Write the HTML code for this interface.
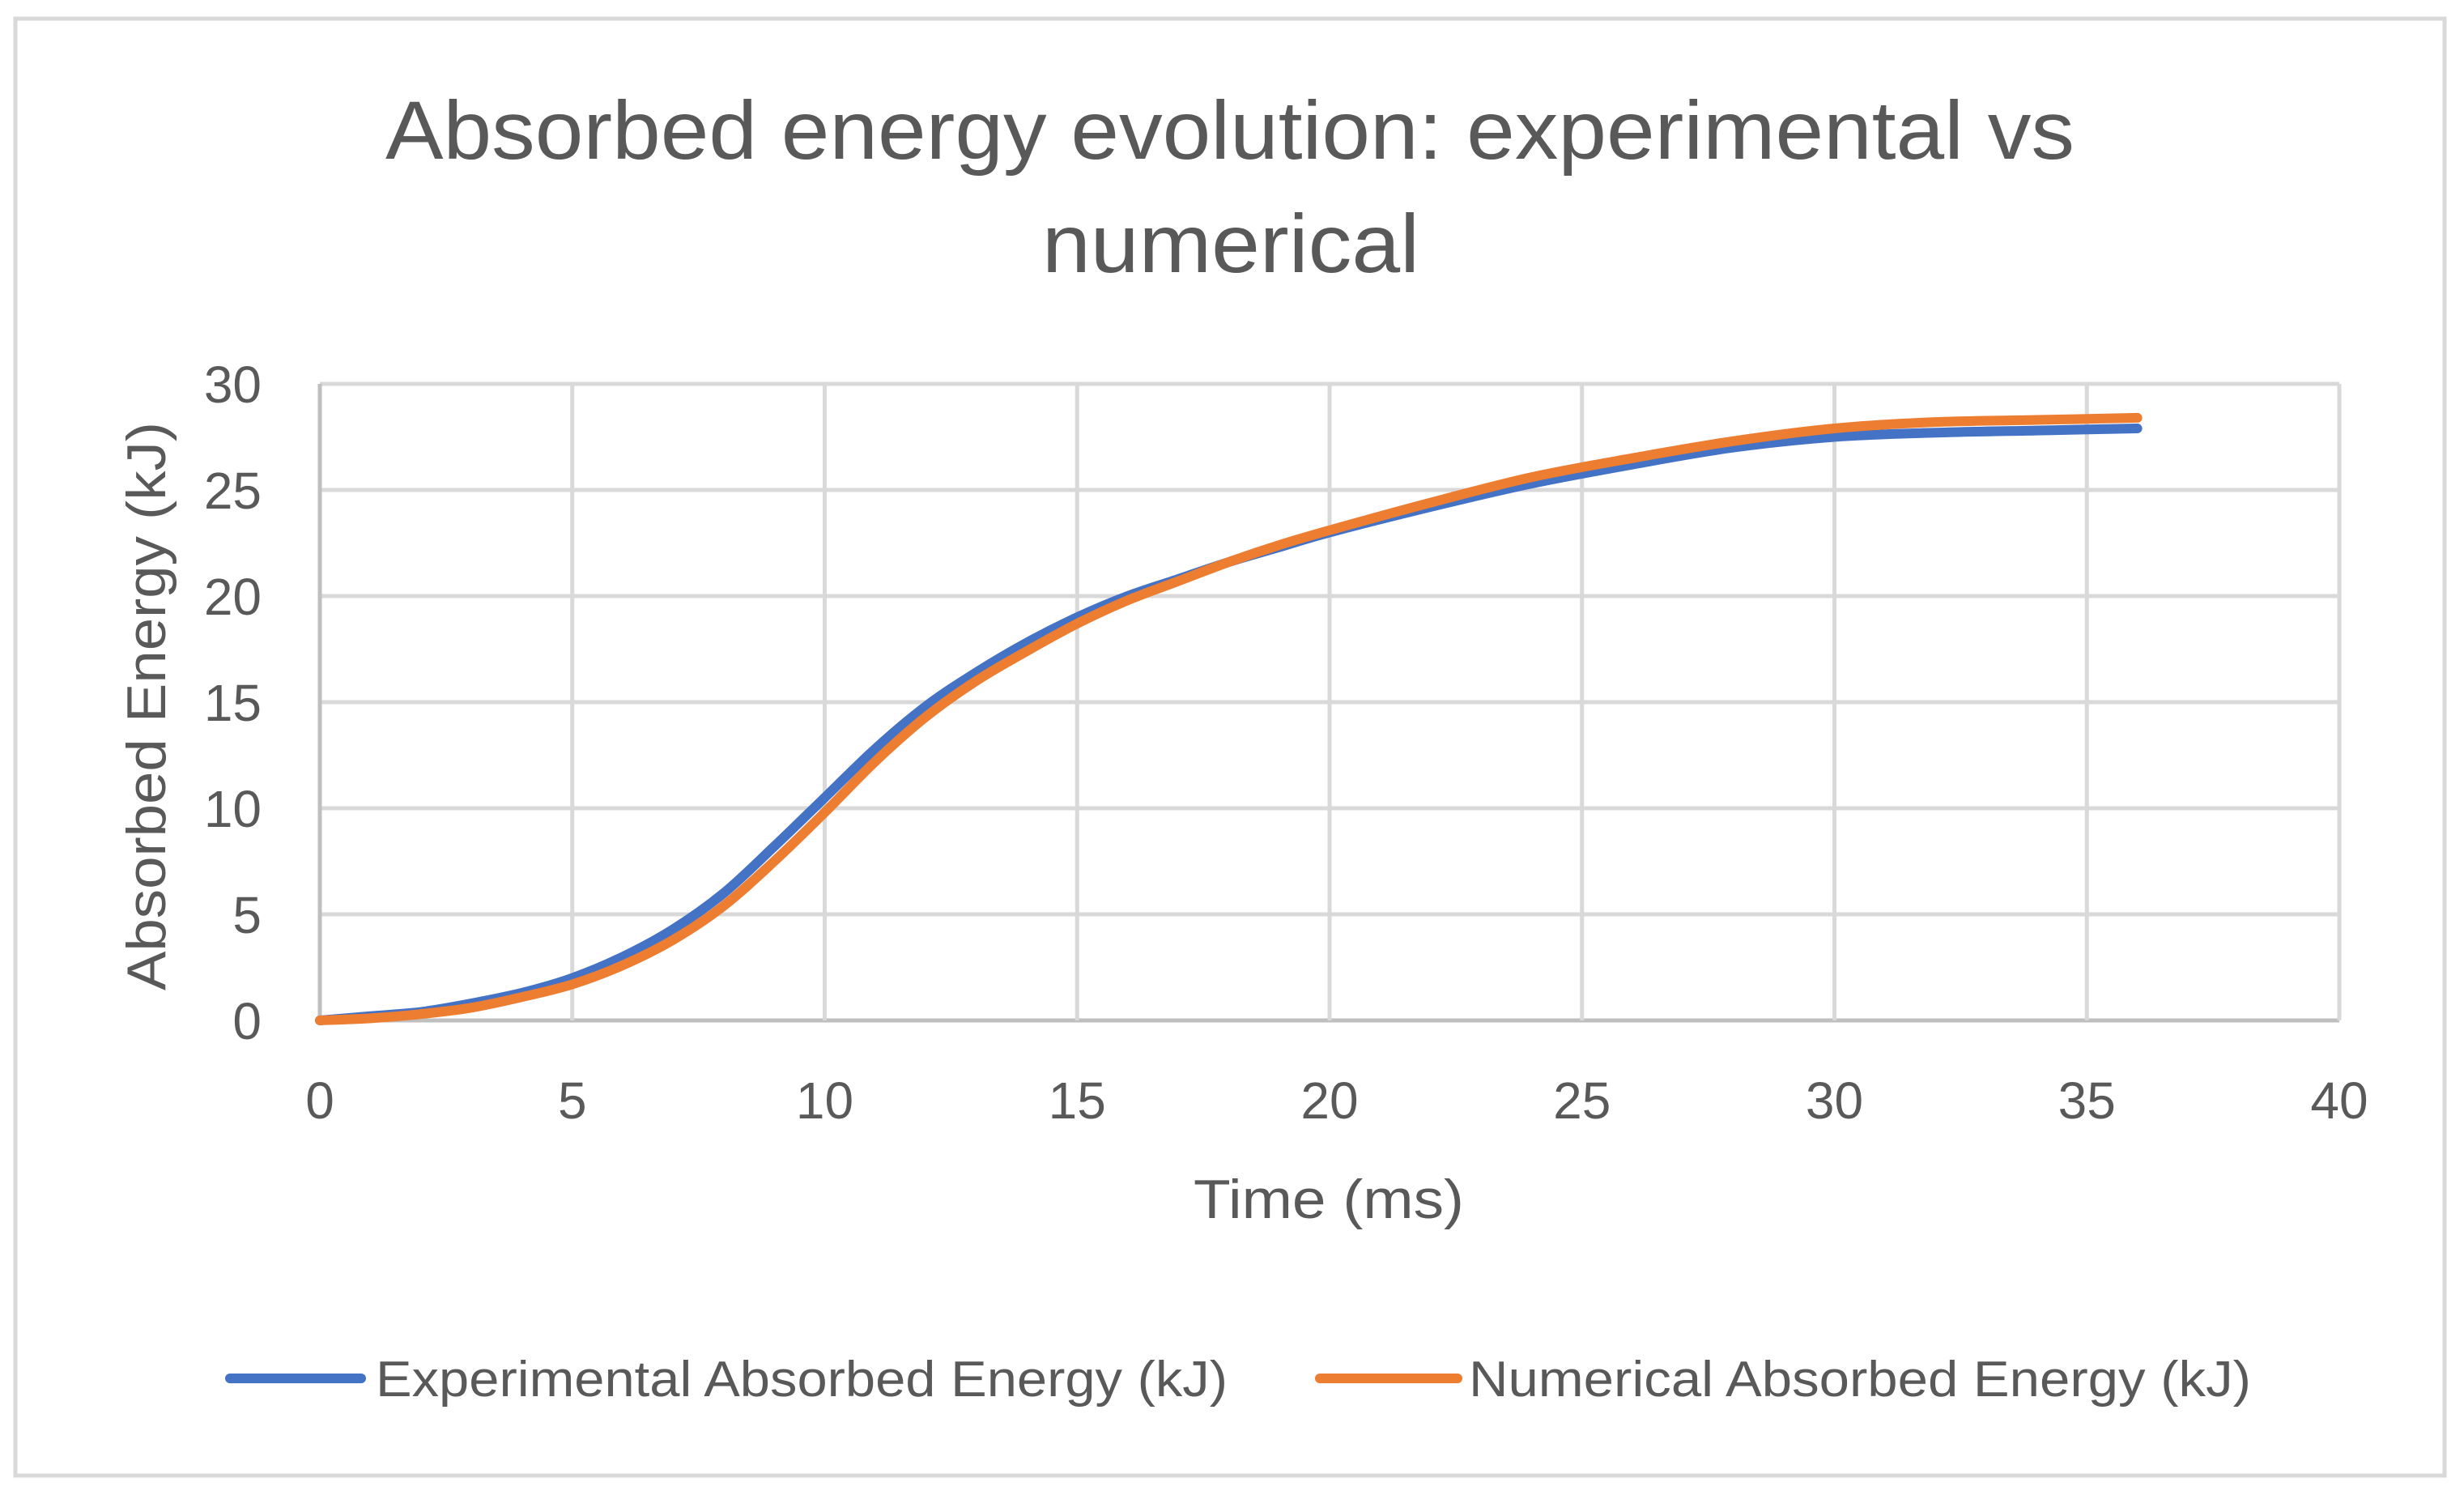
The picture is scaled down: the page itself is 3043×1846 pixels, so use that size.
<!DOCTYPE html>
<html><head><meta charset="utf-8"><style>
html,body{margin:0;padding:0;background:#fff;}
svg{display:block;font-family:"Liberation Sans",sans-serif;}
</style></head><body>
<svg id="chart" width="3043" height="1846" viewBox="0 0 3043 1846" xmlns="http://www.w3.org/2000/svg">
<rect x="19" y="23" width="3000" height="1799" fill="#fff" stroke="#d9d9d9" stroke-width="5"/>
<text fill="#595959" font-size="102"><tspan x="476" y="196" textLength="2086" lengthAdjust="spacingAndGlyphs">Absorbed energy evolution: experimental vs</tspan><tspan x="1287" y="336" textLength="466" lengthAdjust="spacingAndGlyphs">numerical</tspan></text>
<g id="grid"></g>
<g id="ticks" fill="#595959" font-size="64"></g>
<text transform="translate(204,872) rotate(-90)" text-anchor="middle" fill="#595959" font-size="68" textLength="702" lengthAdjust="spacingAndGlyphs">Absorbed Energy (kJ)</text>
<text x="1641" y="1504" text-anchor="middle" fill="#595959" font-size="68" textLength="334" lengthAdjust="spacingAndGlyphs">Time (ms)</text>
<g id="series"></g>
<g>
<g>
<line x1="284" y1="1702" x2="446" y2="1702" stroke="#4472c4" stroke-width="12" stroke-linecap="round"/>
<text x="464" y="1724" fill="#595959" font-size="62" textLength="1052" lengthAdjust="spacingAndGlyphs">Experimental Absorbed Energy (kJ)</text>
</g>
<g>
<line x1="1630" y1="1702" x2="1800" y2="1702" stroke="#ed7d31" stroke-width="12" stroke-linecap="round"/>
<text x="1814" y="1724" fill="#595959" font-size="62" textLength="966" lengthAdjust="spacingAndGlyphs">Numerical Absorbed Energy (kJ)</text>
</g>
</g>
</svg>
<script>
const xTicks=[0,5,10,15,20,25,30,35,40];
const yTicks=[0,5,10,15,20,25,30];
const timeMs=[0,1,2,3,4,5,6,7,8,9,10,11,12,13,14,15,16,17,18,19,20,22,24,26,28,30,32,34,36];
const experimental=[0,0.2,0.4,0.8,1.3,2.0,3.0,4.3,6.0,8.2,10.5,12.8,14.8,16.4,17.8,19.0,20.0,20.8,21.6,22.3,23.0,24.2,25.3,26.2,27.0,27.5,27.7,27.8,27.9];
const numerical=[0,0.1,0.3,0.6,1.1,1.7,2.6,3.8,5.4,7.5,9.8,12.2,14.3,16.0,17.4,18.7,19.8,20.7,21.6,22.4,23.1,24.4,25.6,26.5,27.3,27.9,28.2,28.3,28.4];
const L=395,R=2889,T=474,B=1260;
const sx=v=>L+(v-0)/(40-0)*(R-L);
const sy=v=>B-(v-0)/(30-0)*(B-T);
const NS='http://www.w3.org/2000/svg';
const grid=document.getElementById('grid'),ticks=document.getElementById('ticks'),series=document.getElementById('series');
function mk(tag,attrs,parent){const e=document.createElementNS(NS,tag);for(const k in attrs)e.setAttribute(k,attrs[k]);parent.appendChild(e);return e;}
yTicks.forEach(v=>{
  const l=mk('line',{x1:L,x2:R,y1:sy(v),y2:sy(v),stroke:v===0?'#bfbfbf':'#d9d9d9','stroke-width':5},grid);
  
  
  const t=mk('text',{x:323,y:sy(v)+23,'text-anchor':'end'},ticks);t.textContent=v;
  
  
});
xTicks.forEach(v=>{
  const l=mk('line',{x1:sx(v),x2:sx(v),y1:T,y2:B,stroke:v===0?'#bfbfbf':'#d9d9d9','stroke-width':5},grid);
  
  
  const t=mk('text',{x:sx(v),y:1381,'text-anchor':'middle'},ticks);t.textContent=v;
  
  
});
function smooth(xs,ys){
  const p=xs.map((x,i)=>[sx(x),sy(ys[i])]);
  let d='M'+p[0][0]+','+p[0][1];
  for(let i=0;i<p.length-1;i++){
    const p0=p[Math.max(0,i-1)],p1=p[i],p2=p[i+1],p3=p[Math.min(p.length-1,i+2)];
    const c1=[p1[0]+(p2[0]-p0[0])/6,p1[1]+(p2[1]-p0[1])/6];
    const c2=[p2[0]-(p3[0]-p1[0])/6,p2[1]-(p3[1]-p1[1])/6];
    d+=' C'+c1+' '+c2+' '+p2;
  }
  return d;
}
const e=mk('path',{d:smooth(timeMs,experimental),fill:'none',stroke:'#4472c4','stroke-width':12,'stroke-linecap':'round','stroke-linejoin':'round'},series);


const n=mk('path',{d:smooth(timeMs,numerical),fill:'none',stroke:'#ed7d31','stroke-width':12,'stroke-linecap':'round','stroke-linejoin':'round'},series);


</script>
</body></html>
